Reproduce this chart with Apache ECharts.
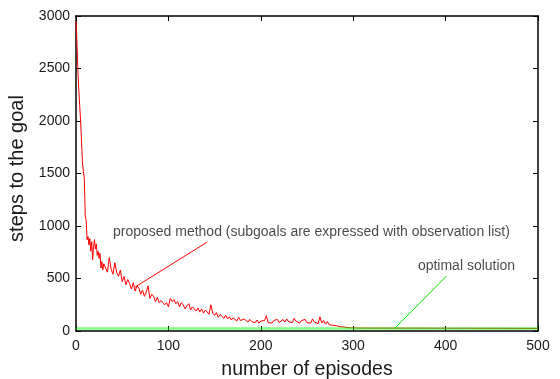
<!DOCTYPE html>
<html>
<head>
<meta charset="utf-8">
<script src="https://cdn.jsdelivr.net/npm/echarts@6/dist/echarts.min.js"></script>
<style>html,body{margin:0;padding:0;background:#fff}#c{width:560px;height:379px}</style>
</head>
<body>
<div id="c"></div>
<script>
// episodes 0..30 (every episode)
var earlyEpisodes = [0,1,2,3,4,5,6,7,8,9,10,11,12,13,14,15,16,17,18,19,20,21,22,23,24,25,26,27,28,29,30];
var earlySteps = [2950,2750,2500,2300,2150,2000,1800,1600,1520,1450,1100,1050,870,900,820,880,760,850,680,800,870,780,830,720,760,690,740,600,660,580,640];
// episodes 32..308 (every second episode)
var laterStart = 32, laterStep = 2;
var laterSteps = [640,560,700,590,540,650,560,520,580,470,520,440,490,450,400,460,380,430,410,350,
 390,330,370,430,310,350,330,280,320,270,290,300,250,270,230,310,280,300,260,280,
 230,270,250,210,240,260,200,230,215,190,220,180,210,170,200,185,160,250,170,150,
 175,130,160,140,120,150,115,135,105,125,110,95,130,100,90,115,100,85,110,90,
 100,80,105,75,95,85,100,145,80,95,75,100,90,110,80,95,110,85,115,90,
 100,80,120,95,105,75,100,85,110,80,95,75,115,85,95,70,135,75,100,65,
 90,60,75,55,70,50,60,40,55,38,48,32,42,30,40,30,35,28,25];
var finalEpisode = 500, finalSteps = 25;
var optimalSteps = 25;
var xTicks = [0,100,200,300,400,500];
var yTicks = [0,500,1000,1500,2000,2500,3000];
var proposedLabel = 'proposed method (subgoals are expressed with observation list)';
var optimalLabel = 'optimal solution';
var proposedArrow = [[64,419],[142,847]];
var optimalArrow = [[345,25],[401,524]];
var proposedTextAt = [40,942];
var optimalTextAt = [370,619];

var redData = [];
earlyEpisodes.forEach(function(e,i){ redData.push([e, earlySteps[i]]); });
laterSteps.forEach(function(v,i){ redData.push([laterStart + i*laterStep, v]); });
redData.push([finalEpisode, finalSteps]);

var txt = '#1a1a1a';
var font = '"Liberation Sans", Arial, Helvetica, sans-serif';
var plain = function(v){ return String(v); };
var chart = echarts.init(document.getElementById('c'), null, {renderer:'canvas'});
var axBase = {
  type:'value', splitLine:{show:false},
  axisLine:{show:true, onZero:false, lineStyle:{color:'#000', width:1.5}},
  axisTick:{show:true, inside:true, length:5, lineStyle:{color:'#000', width:1}}
};
chart.setOption({
  animation:false,
  backgroundColor:'#fff',
  grid:{left:76, right:22, top:16, bottom:48, containLabel:false, outerBoundsMode:'none'},
  xAxis:[
    Object.assign({}, axBase, {position:'bottom', min:xTicks[0], max:xTicks[xTicks.length-1], interval:100,
      axisLabel:{color:txt, fontSize:14, fontFamily:font, margin:8, formatter:plain},
      name:'number of episodes', nameLocation:'middle', nameGap:29,
      nameTextStyle:{color:txt, fontSize:19.5, fontFamily:font}}),
    Object.assign({}, axBase, {position:'top', min:xTicks[0], max:xTicks[xTicks.length-1], interval:100,
      axisLabel:{show:false}})
  ],
  yAxis:[
    Object.assign({}, axBase, {position:'left', min:yTicks[0], max:yTicks[yTicks.length-1], interval:500,
      axisLabel:{color:txt, fontSize:14, fontFamily:font, margin:6, formatter:plain},
      name:'steps to the goal', nameLocation:'middle', nameGap:38,
      nameTextStyle:{color:txt, fontSize:20, fontFamily:font, padding:[0,0,0,10]}}),
    Object.assign({}, axBase, {position:'right', min:yTicks[0], max:yTicks[yTicks.length-1], interval:500,
      axisLabel:{show:false}})
  ],
  series:[
    {type:'line', data:redData, symbol:'none', lineStyle:{color:'#ff0000', width:1}, z:2,
     markLine:{silent:true, symbol:'none', label:{show:false},
       lineStyle:{color:'#ff0000', width:1, type:'solid'},
       data:[[{coord:proposedArrow[0]},{coord:proposedArrow[1]}]]}},
    {type:'line', data:[[xTicks[0],optimalSteps],[xTicks[xTicks.length-1],optimalSteps]], symbol:'none',
     lineStyle:{color:'#00ff00', width:2.5, opacity:0.5}, z:3,
     markLine:{silent:true, symbol:'none', label:{show:false},
       lineStyle:{color:'#00ee00', width:1, type:'solid'},
       data:[[{coord:optimalArrow[0]},{coord:optimalArrow[1]}]]}},
    {type:'scatter', symbolSize:0, data:[
       {value:proposedTextAt, label:{formatter:proposedLabel}},
       {value:optimalTextAt, label:{formatter:optimalLabel}}],
     label:{show:true, position:'right', distance:0, color:txt, fontSize:14, fontFamily:font}, z:5}
  ]
});
</script>
</body>
</html>
